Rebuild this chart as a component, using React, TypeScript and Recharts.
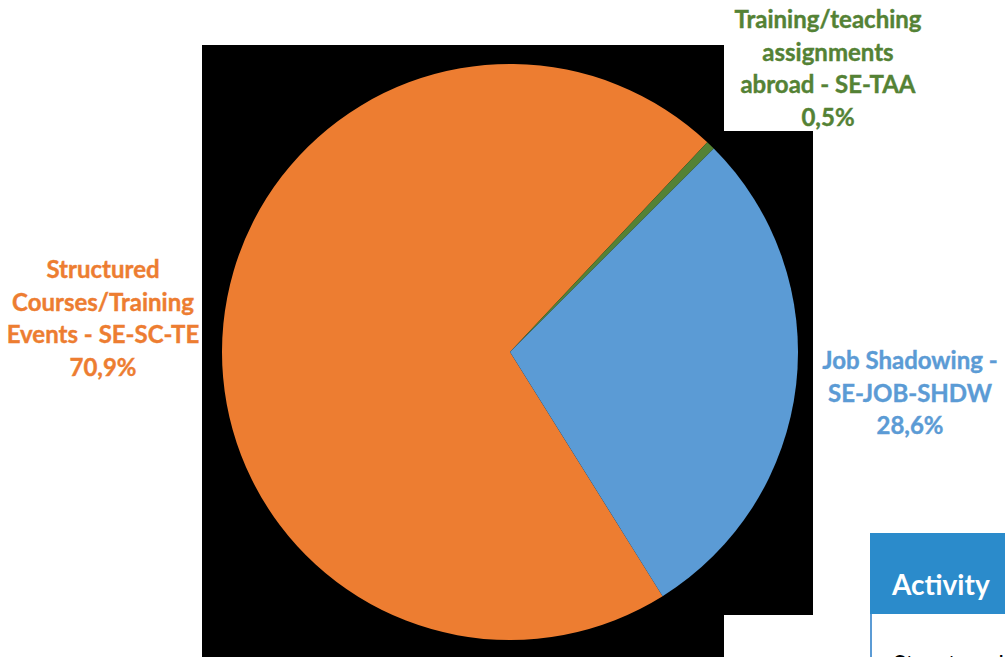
import React from "react";
import { PieChart, Pie, Cell } from "recharts";

const categories = [
  "Structured Courses/Training Events - SE-SC-TE",
  "Training/teaching assignments abroad - SE-TAA",
  "Job Shadowing - SE-JOB-SHDW",
];
const shares = [70.9, 0.5, 28.6];
const labelLines = [
  ["Structured", "Courses/Training", "Events - SE-SC-TE"],
  ["Training/teaching", "assignments", "abroad - SE-TAA"],
  ["Job Shadowing -", "SE-JOB-SHDW"],
];
const sliceColors = ["#ED7D31", "#548235", "#5B9BD5"];
const textColors = ["#ED7D31", "#548235", "#5B9BD5"];

const data = categories.map((name, i) => ({ name, value: shares[i], lines: labelLines[i] }));

// label layout (centre x, first baseline y)
const LABEL_LAYOUT = [
  { x: 103, y: 278 },
  { x: 828, y: 28 },
  { x: 910, y: 369 },
];
const LINE_H = 32.5;
const FONT = "Lato, 'Open Sans', sans-serif";

const fmt = (v: number) => v.toFixed(1).replace(".", ",") + "%";

const renderLabel = (props: any) => {
  const i = props.index;
  const pos = LABEL_LAYOUT[i];
  const d = data[i];
  const lines = [...d.lines, fmt(d.value)];
  return (
    <text
      key={"lbl" + i}
      x={pos.x}
      y={pos.y}
      textAnchor="middle"
      fill={textColors[i]}
      stroke={textColors[i]}
      strokeWidth={0.4}
      fontFamily={FONT}
      fontWeight={700}
      fontSize={24}
    >
      {lines.map((l, k) => (
        <tspan key={k} x={pos.x} y={pos.y + k * LINE_H}>
          {l}
        </tspan>
      ))}
    </text>
  );
};

export default function App() {
  return (
    <div
      style={{
        position: "absolute",
        left: 0,
        top: 0,
        width: 1005,
        height: 657,
        overflow: "hidden",
        background: "#fff",
      }}
    >
      {/* black plot background */}
      <div style={{ position: "absolute", left: 202, top: 45, width: 611, height: 620, background: "#000" }} />
      {/* white label box */}
      <div style={{ position: "absolute", left: 724, top: 0, width: 210, height: 131, background: "#fff" }} />
      {/* white area bottom right */}
      <div style={{ position: "absolute", left: 724, top: 615, width: 100, height: 50, background: "#fff" }} />
      <div style={{ position: "absolute", left: 0, top: 0 }}>
        <PieChart width={1005} height={657} margin={{ top: 0, right: 0, bottom: 0, left: 0 }}>
          <Pie
            data={data}
            dataKey="value"
            nameKey="name"
            cx={510}
            cy={352}
            outerRadius={288}
            startAngle={302}
            endAngle={-58}
            stroke="none"
            label={renderLabel}
            labelLine={false}
            isAnimationActive={false}
          >
            {data.map((d, i) => (
              <Cell key={d.name} fill={sliceColors[i]} />
            ))}
          </Pie>
        </PieChart>
      </div>
      {/* Activity table fragment */}
      <div
        style={{
          position: "absolute",
          left: 870,
          top: 533,
          width: 200,
          height: 81,
          background: "#2B8BCB",
          color: "#fff",
          fontFamily: FONT,
          fontWeight: 700,
          fontSize: 28,
          boxSizing: "border-box",
        }}
      >
        <div style={{ position: "absolute", left: 22, top: 34, lineHeight: "34px" }}>Activity</div>
      </div>
      <div
        style={{
          position: "absolute",
          left: 870,
          top: 614,
          width: 200,
          height: 60,
          background: "#fff",
          borderLeft: "2px solid #5B9BD5",
          overflow: "hidden",
          fontFamily: FONT,
          fontSize: 24,
          color: "#000",
        }}
      >
        <div style={{ position: "absolute", left: 21, top: 34, whiteSpace: "nowrap", lineHeight: "30px" }}>
          Structured Courses/Training Events
        </div>
      </div>
    </div>
  );
}
